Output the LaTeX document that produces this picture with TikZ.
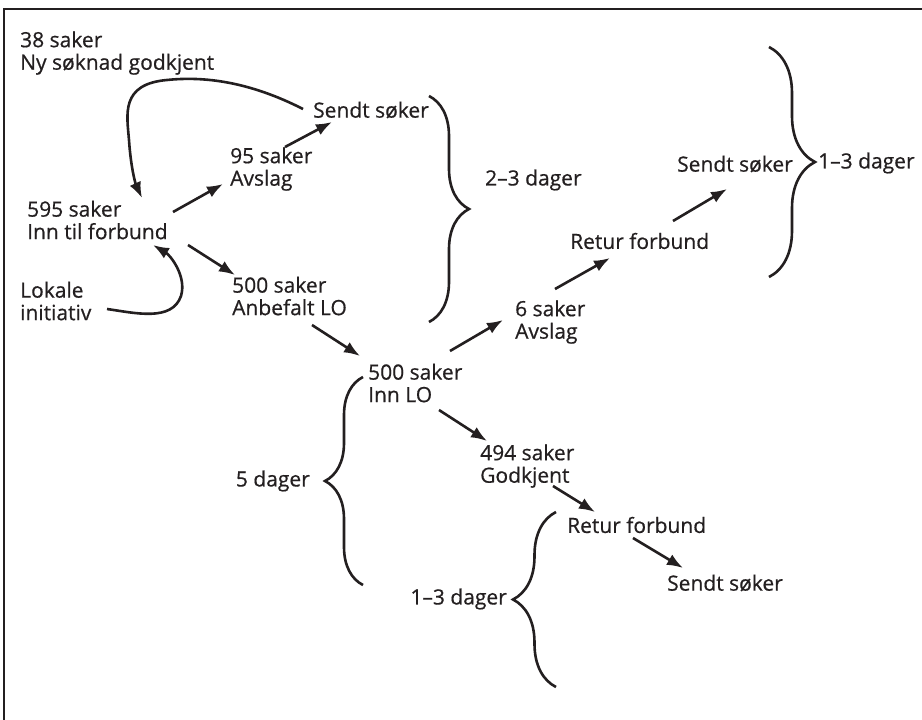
\documentclass[tikz,border=0pt]{standalone}
\usepackage{fontspec}
\setmainfont{Open Sans}[FakeBold=0.6]
\usetikzlibrary{arrows.meta}
\usetikzlibrary{decorations.pathreplacing}
\definecolor{ink}{HTML}{231F20}
\tikzset{>={Latex[length=16pt,width=12pt]}}
\tikzset{
  txt/.style={anchor=west,inner sep=0pt,align=left,text=ink,
    font=\fontsize{21}{22.5}\selectfont},
  arr/.style={->,line width=2.6pt,draw=ink},
  brc/.style={decorate,decoration={brace,amplitude=#1},line width=2.6pt,draw=ink}
}

\begin{document}
\begin{tikzpicture}[x=1pt,y=-1pt]
    \useasboundingbox (0,0) rectangle (922,720);
    \clip (0,0) rectangle (922,720);
    \draw [line width=2.6pt,draw=ink] (4,9) rectangle (960,760);

    \node [txt] (ny) at (20,53) {38 saker\\Ny søknad godkjent};
    \node [txt] (sendtA) at (313,110) {Sendt søker};
    \node [txt] (avslagA) at (230,169) {95 saker\\Avslag};
    \node [txt] (forbund) at (27,220) {595 saker\\Inn til forbund};
    \node [txt] (lokale) at (20,301) {Lokale\\initiativ};
    \node [txt] (anbefalt) at (232,296) {500 saker\\Anbefalt LO};
    \node [txt] (innlo) at (368,383) {500 saker\\Inn LO};
    \node [txt] (avslagB) at (515,322) {6 saker\\Avslag};
    \node [txt] (returA) at (570,241) {Retur forbund};
    \node [txt] (sendtB) at (677,164) {Sendt søker};
    \node [txt] (godkjent) at (480,466) {494 saker\\Godkjent};
    \node [txt] (returB) at (567,525) {Retur forbund};
    \node [txt] (sendtC) at (667,583) {Sendt søker};

    \node [txt] (dagerA) at (485,180) {2--3 dager};
    \node [txt] (dagerB) at (818,163) {1--3 dager};
    \node [txt,anchor=east] (dagerC) at (310,481) {5 dager};
    \node [txt,anchor=east] (dagerD) at (507,599) {1--3 dager};

    \draw [brc=40] (429,96) -- (429,322);
    \draw [brc=46] (769,47) -- (769,277);
    \draw [brc=38] (363,585) -- (363,377);
    \draw [brc=43] (556,687) -- (556,512);

    \draw [arr] ([shift={(146,-8)}]forbund.west) -- ([shift={(-7,15)}]avslagA.west);
    \draw [arr] ([shift={(55,-22)}]avslagA.west) -- ([shift={(19,12)}]sendtA.west);
    \draw [arr] ([shift={(161,25)}]forbund.west) -- ([shift={(3,-21)}]anbefalt.west);
    \draw [arr] ([shift={(-10,-1)}]sendtA.west) .. controls (250,82) and (205,76)
      .. (167,80) .. controls (120,84) and (127,115) .. (129,140)
      .. controls (131,170) and (136,185) .. ([shift={(115,-22)}]forbund.west);
    \draw [arr] ([shift={(87,8)}]lokale.west) .. controls (135,313) and (172,322)
      .. (181,296) .. controls (187,276) and (170,255) .. ([shift={(126,25)}]forbund.west);
    \draw [arr] ([shift={(80,29)}]anbefalt.west) -- ([shift={(-8,-27)}]innlo.west);
    \draw [arr] ([shift={(82,-32)}]innlo.west) -- ([shift={(-12,-2)}]avslagB.west);
    \draw [arr] ([shift={(40,-33)}]avslagB.west) -- ([shift={(40,17)}]returA.west);
    \draw [arr] ([shift={(103,-20)}]returA.west) -- ([shift={(50,25)}]sendtB.west);
    \draw [arr] ([shift={(71,27)}]innlo.west) -- ([shift={(7,-25)}]godkjent.west);
    \draw [arr] ([shift={(73,20)}]godkjent.west) -- ([shift={(28,-13)}]returB.west);
    \draw [arr] ([shift={(66,13)}]returB.west) -- ([shift={(16,-15)}]sendtC.west);
\end{tikzpicture}
\end{document}
